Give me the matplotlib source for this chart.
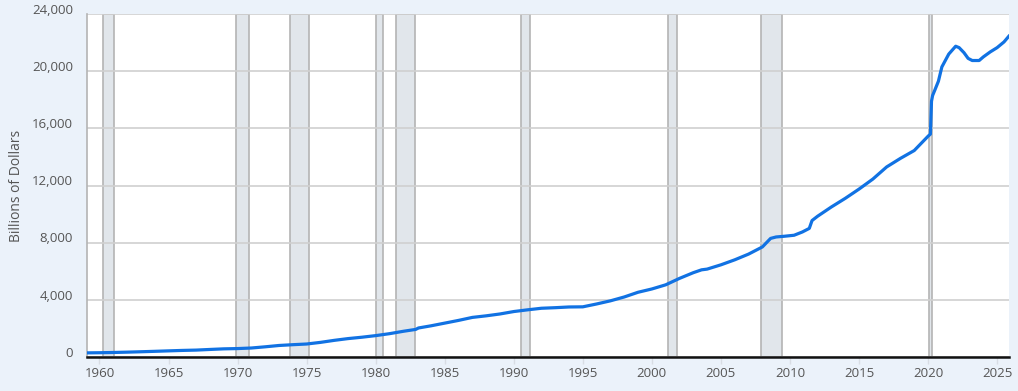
import numpy as np
import matplotlib.pyplot as plt
from matplotlib.ticker import FuncFormatter
from matplotlib.transforms import ScaledTranslation

plt.rcParams['font.family'] = ['Open Sans', 'DejaVu Sans']

# M2 money stock, billions of dollars (fractional year, value)
years = [1959.0, 1960.0, 1961.0, 1962.0, 1963.0, 1964.0, 1965.0, 1966.0, 1967.0, 1968.0,
         1969.0, 1970.0, 1971.0, 1972.0, 1973.0, 1974.0, 1975.0, 1976.0, 1977.0, 1978.0,
         1979.0, 1980.0, 1981.0, 1982.0, 1982.9, 1983.1, 1984.0, 1985.0, 1986.0, 1987.0,
         1988.0, 1989.0, 1990.0, 1991.0, 1992.0, 1993.0, 1994.0, 1995.0, 1996.0, 1997.0,
         1998.0, 1999.0, 2000.0, 2001.0, 2002.0, 2003.0, 2003.6, 2004.0, 2005.0, 2006.0,
         2007.0, 2008.0, 2008.6, 2009.0, 2009.6, 2010.3, 2010.9, 2011.4, 2011.6, 2012.0,
         2013.0, 2014.0, 2015.0, 2016.0, 2017.0, 2018.0, 2019.0, 2020.0, 2020.17, 2020.25,
         2020.33, 2020.5, 2020.75, 2021.0, 2021.5, 2022.0, 2022.25, 2022.6, 2022.9, 2023.2,
         2023.7, 2024.0, 2024.5, 2025.0, 2025.5, 2025.85]
m2 = [287, 298, 315, 338, 366, 396, 428, 459, 482, 527,
      569, 589, 628, 712, 805, 860, 908, 1022, 1164, 1287,
      1383, 1495, 1631, 1798, 1930, 2030, 2180, 2370, 2560, 2770,
      2880, 3010, 3180, 3300, 3410, 3450, 3500, 3510, 3710, 3930,
      4200, 4530, 4760, 5050, 5500, 5900, 6100, 6150, 6450, 6800,
      7200, 7700, 8300, 8400, 8450, 8520, 8750, 9000, 9550, 9850,
      10500, 11100, 11750, 12450, 13300, 13900, 14450, 15450, 15600, 17900,
      18300, 18700, 19300, 20300, 21200, 21750, 21650, 21300, 20900, 20750,
      20750, 21000, 21350, 21650, 22050, 22450]

recessions = [(1960.25, 1961.08), (1969.92, 1970.83), (1973.83, 1975.17), (1980.0, 1980.5),
              (1981.5, 1982.83), (1990.5, 1991.17), (2001.17, 2001.83), (2007.92, 2009.42),
              (2020.08, 2020.25)]

bg = '#ebf2fa'
fig = plt.figure(figsize=(10.18, 3.91), dpi=100, facecolor=bg)
ax = fig.add_axes([0.0855, 0.087, 0.9055, 0.877])
ax.set_facecolor('white')

for s, e in recessions:
    ax.axvspan(s, e, facecolor='#e1e6eb', edgecolor='#b4b4b4', linewidth=1.2, zorder=1)

ax.plot(years, m2, color='#1172e3', linewidth=2.3, zorder=3, solid_joinstyle='round')

ax.set_xlim(1959.1, 2025.85)
ax.set_ylim(0, 24000)
ax.set_yticks(np.arange(0, 24001, 4000))
ax.set_xticks(np.arange(1960, 2026, 5))
ax.yaxis.set_major_formatter(FuncFormatter(lambda v, p: f'{int(v):,}'))
ax.grid(axis='y', color='#d0d0d0', linewidth=1.2, zorder=0)

for side in ['top', 'right']:
    ax.spines[side].set_visible(False)
ax.spines['left'].set_color('#b4b4b4')
ax.spines['left'].set_linewidth(1.2)
ax.spines['bottom'].set_color('#111111')
ax.spines['bottom'].set_linewidth(1.8)

ax.tick_params(axis='y', length=0, pad=10, labelsize=9.5, labelcolor='#555555')
ax.tick_params(axis='x', length=5, color='#d8dde4', width=1, pad=2,
               labelsize=9.5, labelcolor='#555555')
shift = ScaledTranslation(0, -2 / 72, fig.dpi_scale_trans)
for lbl in ax.get_yticklabels():
    lbl.set_verticalalignment('bottom')
    lbl.set_transform(lbl.get_transform() + shift)

ax.set_ylabel('Billions of Dollars', fontsize=10, color='#555555', labelpad=6)

fig.savefig('out.png', dpi=100, facecolor=bg)
